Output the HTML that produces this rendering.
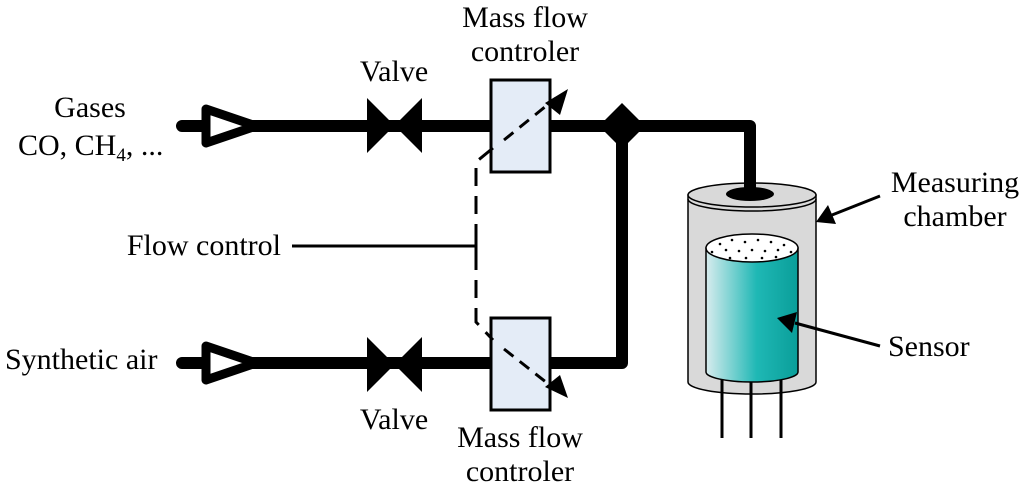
<!DOCTYPE html>
<html><head><style>body{margin:0;background:#fff} text{font-family:"Liberation Serif","Times New Roman",serif;font-size:30px}</style></head><body>
<svg width="1024" height="490" viewBox="0 0 1024 490" xmlns="http://www.w3.org/2000/svg" fill="#000">
<defs>
<linearGradient id="g" x1="0" x2="1"><stop offset="0" stop-color="#d8ecee"/><stop offset="0.55" stop-color="#1fb8b5"/><stop offset="1" stop-color="#0a9e99"/></linearGradient>
</defs>
<g stroke="#000" stroke-width="12" fill="none" stroke-linecap="round" stroke-linejoin="round">
<path d="M182,126 H750 V192"/>
<path d="M182,363 H622 V126"/>
</g>
<g stroke="#000" stroke-width="9" fill="#fff" stroke-linejoin="round">
<path d="M206,109 L256,126 L206,143z"/>
<path d="M206,346 L256,363 L206,380z"/>
</g>
<path d="M367,98 L422,153 V98 L367,153z"/>
<path d="M367,337 L422,392 V337 L367,392z"/>
<path d="M622,103 L645,126 L622,149 L599,126z"/>
<rect x="491" y="80" width="59" height="92" fill="#e4ecf7" stroke="#000" stroke-width="3"/>
<rect x="491" y="318" width="59" height="92" fill="#e4ecf7" stroke="#000" stroke-width="3"/>
<g stroke="#000" stroke-width="3" fill="none">
<path d="M504,140 L556,98" stroke-dasharray="12,8"/>
<path d="M504,349 L556,390" stroke-dasharray="12,8"/>
<path d="M493,148 L476,162 V322 L493,340" stroke-dasharray="18,10"/>
<path d="M292,246 H476 M476,236 V256"/>
</g>
<path d="M568,89 L560,115 L545,103z"/>
<path d="M568,398 L545,387 L560,375z"/>
<path d="M688,195 V382 A64,12 0 0 0 816,382 V195z" fill="#d9d9d9" stroke="#000" stroke-width="1.5"/>
<ellipse cx="752" cy="195" rx="64" ry="12" fill="#d9d9d9" stroke="#000" stroke-width="1.5"/>
<path d="M688,199 A64,12 0 0 0 816,199" fill="none" stroke="#000" stroke-width="1.5"/>
<ellipse cx="750" cy="194" rx="24" ry="7"/>
<rect x="744" y="126" width="12" height="66"/>
<g stroke="#000" stroke-width="3"><path d="M722,380 V438 M751,382 V438 M781,380 V438"/></g>
<path d="M706,248 V372 A46,10 0 0 0 798,372 V248z" fill="url(#g)" stroke="#000" stroke-width="1.5"/>
<ellipse cx="752" cy="248" rx="46" ry="14" fill="#fff" stroke="#000" stroke-width="1.5"/>
<g fill="#000">
<circle cx="720" cy="244" r="1.3"/><circle cx="732" cy="240" r="1.3"/><circle cx="745" cy="242" r="1.3"/><circle cx="758" cy="240" r="1.3"/><circle cx="771" cy="242" r="1.3"/><circle cx="784" cy="245" r="1.3"/><circle cx="712" cy="252" r="1.3"/><circle cx="726" cy="250" r="1.3"/><circle cx="739" cy="251" r="1.3"/><circle cx="752" cy="250" r="1.3"/><circle cx="765" cy="251" r="1.3"/><circle cx="778" cy="250" r="1.3"/><circle cx="791" cy="252" r="1.3"/><circle cx="730" cy="258" r="1.3"/><circle cx="746" cy="258" r="1.3"/><circle cx="762" cy="258" r="1.3"/><circle cx="776" cy="257" r="1.3"/>
</g>
<g stroke="#000" stroke-width="3"><path d="M880,196 L832,215"/><path d="M880,346 L795,323"/></g>
<path d="M816,222 L828,205 L836,224z"/>
<path d="M777,318 L797,312 L792,333z"/>
<text x="90" y="117" text-anchor="middle">Gases</text>
<text x="18" y="155">CO, CH<tspan style="font-size:19px" dy="6">4</tspan><tspan dy="-6">, ...</tspan></text>
<text x="394" y="81" text-anchor="middle">Valve</text>
<text x="525" y="27" text-anchor="middle">Mass flow</text>
<text x="525" y="61" text-anchor="middle">controler</text>
<text x="281" y="255" text-anchor="end">Flow control</text>
<text x="5" y="369">Synthetic air</text>
<text x="394" y="429" text-anchor="middle">Valve</text>
<text x="520" y="447" text-anchor="middle">Mass flow</text>
<text x="520" y="481" text-anchor="middle">controler</text>
<text x="955" y="192" text-anchor="middle">Measuring</text>
<text x="955" y="226" text-anchor="middle">chamber</text>
<text x="888" y="356">Sensor</text>
</svg>
</body></html>
